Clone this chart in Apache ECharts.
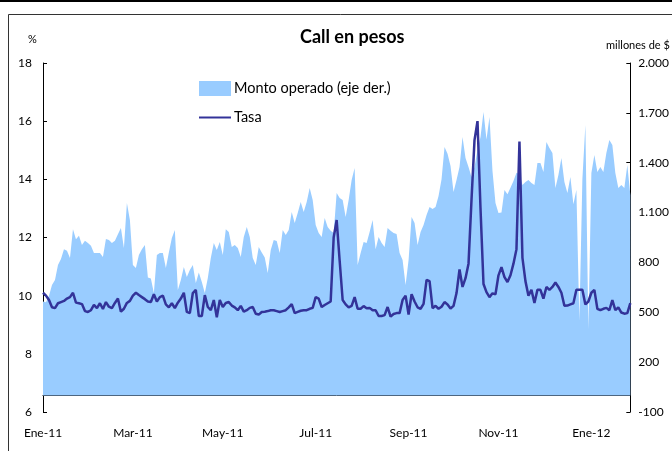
<!DOCTYPE html>
<html>
<head>
<meta charset="utf-8">
<script src="https://cdn.jsdelivr.net/npm/echarts@6/dist/echarts.min.js"></script>
<style>
html,body{margin:0;padding:0;background:#fff;}
#c{width:672px;height:451px;}
</style>
</head>
<body>
<div id="c"></div>
<script>
// ---- DATA ----
const title = 'Call en pesos';
const leftUnit = '%';
const rightUnit = 'millones de $';
const seriesNames = ['Monto operado (eje der.)', 'Tasa'];
const monthNames = ['Ene','Feb','Mar','Abr','May','Jun','Jul','Ago','Sep','Oct','Nov','Dic'];

// Tasa (%), one reading every two days from 1 Jan 2011
const tasa = [
10.1,10.0,9.85,9.6,9.57,9.74,9.78,9.82,9.9,9.95,
10.1,9.76,9.74,9.71,9.47,9.44,9.5,9.68,9.57,9.74,
9.54,9.78,9.62,9.57,9.75,9.9,9.45,9.55,9.75,9.82,
10.0,10.1,10.02,9.95,9.88,9.8,9.78,10.05,9.8,9.95,
10.0,9.7,9.6,9.74,9.57,9.76,9.9,10.1,9.44,9.4,
10.09,10.2,9.3,9.3,10.02,9.61,9.5,9.85,9.26,9.85,
9.61,9.75,9.78,9.66,9.6,9.5,9.65,9.45,9.5,9.58,
9.61,9.38,9.35,9.44,9.45,9.47,9.5,9.5,9.47,9.44,
9.47,9.5,9.6,9.71,9.4,9.44,9.48,9.5,9.5,9.55,
9.58,9.95,9.9,9.61,9.68,9.74,9.8,12.0,12.6,11.2,
9.85,9.7,9.6,9.65,9.95,9.55,9.55,9.64,9.57,9.58,
9.5,9.5,9.3,9.3,9.33,9.61,9.28,9.37,9.4,9.4,
9.85,10.0,9.35,10.05,9.8,9.6,9.55,9.72,10.54,10.5,
9.57,9.65,9.55,9.62,9.78,9.7,9.56,9.65,10.09,10.9,
10.3,10.6,11.1,13.3,15.35,16.0,13.0,10.4,10.12,9.95,
10.08,10.05,10.7,10.98,10.64,10.47,10.7,11.1,11.6,15.3,
11.3,10.5,10.0,10.2,9.75,10.2,10.2,9.9,10.3,10.2,
10.3,10.45,10.3,10.1,9.65,9.66,9.7,9.74,10.2,10.2,
10.2,9.7,9.8,10.1,10.2,9.55,9.5,9.55,9.58,9.5,
9.85,9.5,9.6,9.42,9.38,9.4,9.74
];

// Monto operado (millones de $), same dates
const monto = [
565,560,600,664,694,785,820,880,870,826,
1000,940,960,905,930,917,900,857,857,857,
833,941,935,917,930,970,1007,887,1158,1055,
785,767,845,880,905,710,703,616,845,857,
857,767,860,947,995,634,694,773,713,755,
785,676,740,682,616,706,826,917,875,923,
845,1000,983,893,905,887,833,953,1013,953,
826,785,893,860,830,737,875,935,929,857,
995,965,995,1103,1037,1097,1164,1103,1164,1248,
1176,1025,977,953,1067,1013,990,977,1218,1188,
1176,1073,1176,1296,1368,785,857,923,917,983,
1055,880,953,917,893,1007,990,977,971,857,
815,664,815,1073,1037,905,983,1025,1085,1134,
1122,1134,1200,1300,1494,1454,1380,1224,1296,1374,
1555,1428,1374,1314,1374,1476,1555,1705,1540,1675,
1350,1158,1097,1100,1236,1210,1250,1290,1340,1330,
1266,1284,1296,1278,1266,1398,1398,1344,1525,1488,
1458,1248,1326,1428,1284,1218,1314,1150,1236,450,
1300,1627,400,1338,1446,1344,1374,1344,1458,1537,
1507,1338,1248,1266,1248,1386,1206
];

// category dates (every two days from 1 Jan 2011)
const categories = [];
for (let i = 0; i < tasa.length; i++) {
  const d = new Date(Date.UTC(2011, 0, 1 + 2 * i));
  categories.push(d.toISOString().slice(0, 10));
}

function monthOf(s){ return parseInt(s.slice(5,7),10) - 1; }
function isLabelIdx(idx){
  const m = monthOf(categories[idx]);
  if (m % 2 !== 0) return false;
  if (idx === 0) return true;
  return monthOf(categories[idx-1]) !== m;
}
function fmtLabel(s){
  return monthNames[monthOf(s)] + '-' + s.slice(2,4);
}
function thousands(v){
  const neg = v < 0; let s = String(Math.abs(v));
  s = s.replace(/\B(?=(\d{3})+(?!\d))/g, '.');
  return (neg ? '-' : '') + s;
}

const FONT = 'Lato';
const chart = echarts.init(document.getElementById('c'), null, {renderer: 'canvas'});
chart.setOption({
  animation: false,
  backgroundColor: '#fff',
  textStyle: {fontFamily: FONT, color: '#000'},
  grid: {left: 43, right: 40, top: 63, bottom: 39, containLabel: false},
  legend: {
    orient: 'vertical', left: 198, top: 81, padding: 0,
    itemWidth: 32, itemHeight: 15, itemGap: 14,
    textStyle: {fontFamily: FONT, fontSize: 14.5, color: '#000', padding: [0,0,0,-2]},
    data: [
      {name: seriesNames[0], icon: 'rect'},
      {name: seriesNames[1], itemStyle: {opacity: 0}}
    ]
  },
  xAxis: {
    type: 'category', data: categories, boundaryGap: false,
    axisLine: {lineStyle: {color: '#000', width: 1}},
    axisTick: {inside: true, length: 4, lineStyle: {color: '#000'}, interval: (i) => isLabelIdx(i) && i !== 0},
    axisLabel: {interval: (i) => isLabelIdx(i), formatter: fmtLabel, fontSize: 12, color: '#000', margin: 15, fontFamily: FONT},
    splitLine: {show: false}
  },
  yAxis: [
    {
      type: 'value', min: 6, max: 18, interval: 2, position: 'left',
      axisLine: {show: true, lineStyle: {color: '#000', width: 1}},
      axisTick: {show: true, inside: true, length: 4, lineStyle: {color: '#000'}},
      axisLabel: {fontSize: 12, color: '#000', margin: 11, fontFamily: FONT},
      splitLine: {show: false}
    },
    {
      type: 'value', min: -100, max: 2000, interval: 300, position: 'right',
      axisLine: {show: true, lineStyle: {color: '#000', width: 1}},
      axisTick: {show: true, inside: true, length: 4, lineStyle: {color: '#000'}},
      axisLabel: {fontSize: 12, color: '#000', margin: 8, formatter: thousands, fontFamily: FONT},
      splitLine: {show: false}
    }
  ],
  series: [
    {
      name: seriesNames[0], type: 'line', yAxisIndex: 1, data: monto,
      symbol: 'none', color: '#99ccff',
      lineStyle: {width: 0, color: '#99ccff'},
      areaStyle: {color: '#99ccff', opacity: 1},
      z: 1
    },
    {
      name: seriesNames[1], type: 'line', yAxisIndex: 0, data: tasa,
      symbol: 'none', color: '#333399',
      lineStyle: {width: 2.5, color: '#333399'},
      z: 3
    }
  ],
  graphic: [
    {type: 'rect', shape: {x: 0, y: 0, width: 672, height: 2}, style: {fill: '#000'}, silent: true},
    {type: 'line', shape: {x1: 8.5, y1: 14.5, x2: 672, y2: 14.5}, style: {stroke: '#333', lineWidth: 1}, silent: true},
    {type: 'line', shape: {x1: 8.5, y1: 14.5, x2: 8.5, y2: 451}, style: {stroke: '#333', lineWidth: 1}, silent: true},
    {type: 'text', left: 300, top: 28, style: {text: title, fontFamily: FONT, fontSize: 18, fontWeight: 'bold', fill: '#000'}},
    {type: 'text', left: 28, top: 34, style: {text: leftUnit, fontFamily: FONT, fontSize: 11, fill: '#000'}},
    {type: 'text', left: 606, top: 40, style: {text: rightUnit, fontFamily: FONT, fontSize: 11, fill: '#000'}}
  ]
});
</script>
</body>
</html>
